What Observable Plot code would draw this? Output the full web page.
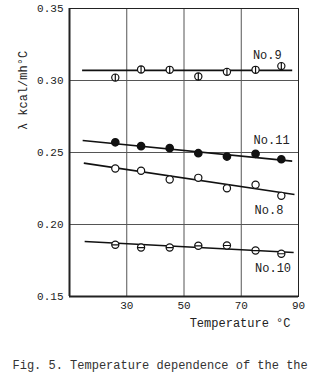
<!DOCTYPE html>
<html><head><meta charset="utf-8">
<script src="https://cdn.jsdelivr.net/npm/d3@7"></script>
<script src="https://cdn.jsdelivr.net/npm/@observablehq/plot@0.6"></script>
<style>body{margin:0;background:#fff;} svg{font-family:"Liberation Mono",monospace;}</style>
</head><body><div id="chart"></div>
<script>
const temps = [26, 35, 45, 55, 65, 75, 84];
const no9  = [0.302, 0.3076, 0.3074, 0.3028, 0.306, 0.3074, 0.310];
const no11 = [0.2571, 0.2544, 0.253, 0.2495, 0.2472, 0.2491, 0.2453];
const no8  = [0.2389, 0.2373, 0.2313, 0.2324, 0.2252, 0.2276, 0.2199];
const no10 = [0.1859, 0.184, 0.184, 0.1852, 0.1854, 0.1819, 0.1797];
const seriesNames = ["No.9", "No.11", "No.8", "No.10"];
const seriesMarker = ["vbar", "filled", "open", "hbar"];
// fitted lines: start/end temperature and value
const fitT1 = [14.4, 14.6, 15, 15.3];
const fitV1 = [0.307, 0.2583, 0.2426, 0.1882];
const fitT2 = [87.8, 87.8, 88.6, 88.3];
const fitV2 = [0.307, 0.244, 0.2208, 0.1806];
// label positions
const labelT = [79.1, 80.6, 79.7, 81.1];
const labelV = [0.3174, 0.2583, 0.2102, 0.170];
const xTicks = [30, 50, 70, 90];
const yTicks = [0.15, 0.20, 0.25, 0.30, 0.35];
const xGrid = [30, 50, 70];
const yGrid = [0.20, 0.25, 0.30];
const xLabel = "Temperature °C";
const yLabel = "λ kcal/mh°C";
const caption = "Fig. 5. Temperature dependence of the the";

const allValues = [no9, no11, no8, no10];
const points = [];
allValues.forEach((vals, i) => vals.forEach((v, j) => points.push({t: temps[j], v, s: seriesMarker[i]})));
const fits = seriesNames.map((n, i) => ({x1: fitT1[i], y1: fitV1[i], x2: fitT2[i], y2: fitV2[i]}));
const labels = seriesNames.map((n, i) => ({t: labelT[i], v: labelV[i], n}));

const vbar = {draw(ctx, size){ const r = Math.sqrt(size/Math.PI); ctx.moveTo(r,0); ctx.arc(0,0,r,0,2*Math.PI); ctx.moveTo(0,-r); ctx.lineTo(0,r);} };
const hbar = {draw(ctx, size){ const r = Math.sqrt(size/Math.PI); ctx.moveTo(r,0); ctx.arc(0,0,r,0,2*Math.PI); ctx.moveTo(-r,0); ctx.lineTo(r,0);} };

const plot = Plot.plot({
  width: 312, height: 380,
  marginLeft: 69, marginRight: 14, marginTop: 8, marginBottom: 84,
  style: {fontFamily: "Liberation Mono, monospace", fontSize: "11px", color: "#222", background: "#fff"},
  x: {domain: [10, 90], ticks: xTicks, tickSize: 0, tickPadding: 5, label: null, tickFormat: d => String(d)},
  y: {domain: [0.15, 0.35], ticks: yTicks, tickSize: 0, tickPadding: 6, label: null, tickFormat: d => d.toFixed(2)},
  marks: [
    Plot.ruleX(xGrid, {stroke: "#555", strokeWidth: 1}),
    Plot.ruleY(yGrid, {stroke: "#555", strokeWidth: 1}),
    Plot.frame({stroke: "#222", strokeWidth: 1}),
    Plot.ruleX([10], {stroke: "#222", strokeWidth: 2}),
    Plot.ruleY([0.15], {stroke: "#222", strokeWidth: 2}),
    Plot.link(fits, {x1: "x1", y1: "y1", x2: "x2", y2: "y2", stroke: "#111", strokeWidth: 1.6}),
    Plot.dot(points.filter(d => d.s === "filled"), {x: "t", y: "v", r: 3.6, fill: "#111", stroke: "#111"}),
    Plot.dot(points.filter(d => d.s === "open"), {x: "t", y: "v", r: 3.6, fill: "#fff", stroke: "#111", strokeWidth: 1.2}),
    Plot.dot(points.filter(d => d.s === "vbar"), {x: "t", y: "v", r: 3.6, symbol: vbar, fill: "#fff", stroke: "#111", strokeWidth: 1.2}),
    Plot.dot(points.filter(d => d.s === "hbar"), {x: "t", y: "v", r: 3.6, symbol: hbar, fill: "#fff", stroke: "#111", strokeWidth: 1.2}),
    Plot.text(labels, {x: "t", y: "v", text: "n", fontSize: 12, fill: "#222"}),
    Plot.text([yLabel], {frameAnchor: "top-left", dx: -46, dy: 82, rotate: -90, textAnchor: "middle", lineAnchor: "middle", fontSize: 12, fill: "#222"}),
    Plot.text([xLabel], {frameAnchor: "bottom-right", dx: -8, dy: 27, textAnchor: "end", lineAnchor: "middle", fontSize: 12, fill: "#222"}),
    Plot.text([caption], {frameAnchor: "bottom-left", dx: -57, dy: 69, textAnchor: "start", lineAnchor: "middle", fontSize: 12, fill: "#333"})
  ]
});
document.getElementById("chart").appendChild(plot);
</script>
</body></html>
